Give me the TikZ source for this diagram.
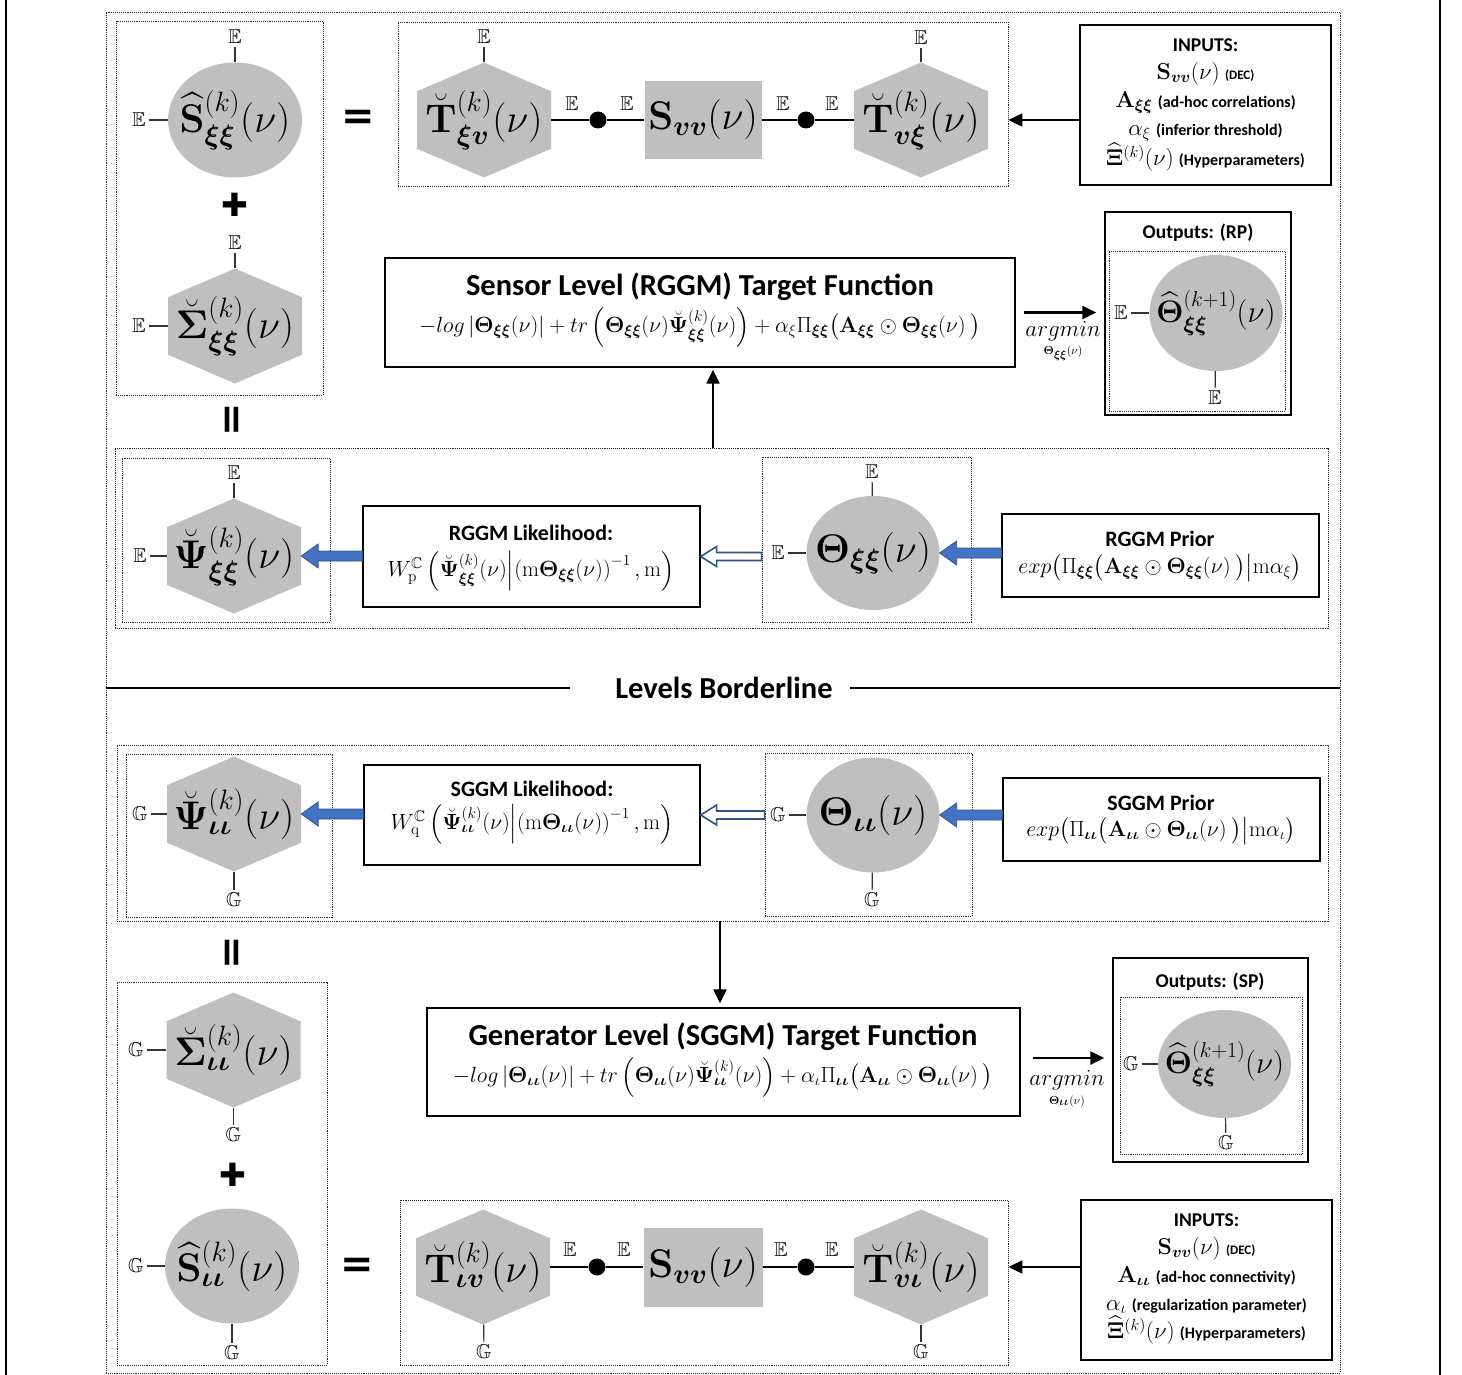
\RequirePackage{fix-cm}
\documentclass[tikz,border=0pt]{standalone}
\usepackage{amsmath,amssymb}
\usepackage{bm}
\usepackage[no-math]{fontspec}
\setmainfont{Carlito}
\newfontfamily\djv{DejaVu Sans}
\usetikzlibrary{shapes.geometric,arrows.meta,calc}
\definecolor{nodegray}{RGB}{191,191,191}
\definecolor{bluefill}{RGB}{68,114,196}
\definecolor{blueedge}{RGB}{47,82,143}
\newcommand{\xixi}{\bm{\xi\xi}}
\newcommand{\ioio}{\bm{\iota\iota}}
\newcommand{\bigttl}{\fontsize{30.5}{36}\selectfont\bfseries}
\newcommand{\midttl}{\fontsize{22}{26}\selectfont\bfseries}
\newcommand{\smttl}{\fontsize{19.5}{24}\selectfont\bfseries}
\newcommand{\partxt}{\fontsize{16}{18}\selectfont\bfseries}
\newcommand{\dectxt}{\fontsize{13}{15}\selectfont\bfseries}
\newcommand{\fatarrow}[2]{%
  \filldraw[fill=bluefill, draw=blueedge, line width=0.8pt] let \p1=(#1), \p2=(#2) in
  (\x1,\y2+5pt) -- (\x2+17pt,\y2+5pt) -- (\x2+17pt,\y2+12pt) -- (\x2,\y2)
  -- (\x2+17pt,\y2-12pt) -- (\x2+17pt,\y2-5pt) -- (\x1,\y2-5pt) -- cycle;}
\newcommand{\hollowarrow}[2]{%
  \filldraw[fill=white, draw=blueedge, line width=1.6pt] let \p1=(#1), \p2=(#2) in
  (\x1,\y2+4pt) -- (\x2+16pt,\y2+4pt) -- (\x2+16pt,\y2+10pt) -- (\x2,\y2)
  -- (\x2+16pt,\y2-10pt) -- (\x2+16pt,\y2-4pt) -- (\x1,\y2-4pt) -- cycle;}
\tikzset{
  dotbox/.style={draw=black!85, densely dotted, line width=0.9pt, inner sep=0pt, rectangle},
  solbox/.style={draw=black, line width=1.3pt, inner sep=0pt, rectangle},
  ell/.style={ellipse, fill=nodegray, minimum width=134pt, minimum height=115pt, inner sep=-40pt,
    font=\fontsize{40}{44}\selectfont},
  hexa/.style={rectangle, inner sep=0pt, minimum width=134pt, minimum height=115pt,
    font=\fontsize{40}{44}\selectfont,
    path picture={\fill[nodegray] (path picture bounding box.north)
      -- ($(path picture bounding box.north east)!0.25!(path picture bounding box.south east)$)
      -- ($(path picture bounding box.north east)!0.75!(path picture bounding box.south east)$)
      -- (path picture bounding box.south)
      -- ($(path picture bounding box.north west)!0.75!(path picture bounding box.south west)$)
      -- ($(path picture bounding box.north west)!0.25!(path picture bounding box.south west)$)
      -- cycle;}},
  sqnode/.style={rectangle, fill=nodegray, inner sep=0pt, minimum width=117pt, minimum height=78pt,
    font=\fontsize{40}{44}\selectfont},
  lbl/.style={inner sep=3pt, font=\fontsize{20}{20}\selectfont},
  stub/.style={draw=black!80, line width=1.2pt},
  link/.style={draw=black, line width=1.2pt},
  blackdot/.style={circle, fill=black, inner sep=0pt, minimum size=17pt},
  arr/.style={line width=2.2pt, -{Triangle[length=14pt,width=13pt]}},
  sym/.style={inner sep=0pt, font=\djv\bfseries\fontsize{40}{40}\selectfont},
  plussym/.style={inner sep=0pt, font=\djv\fontsize{32}{32}\selectfont},
  formula/.style={inner sep=0pt, font=\fontsize{22}{26}\selectfont},
  inlist/.style={inner sep=0pt, align=center, font=\fontsize{23}{28}\selectfont},
  outmath/.style={font=\fontsize{31}{36}\selectfont},
}
\begin{document}
\begin{tikzpicture}[x=1pt,y=-1pt]
\useasboundingbox (0,0) rectangle (1462,1375);
% page frame lines
\draw[line width=1.2pt] (6,0) -- (6,1375);
\draw[line width=1.2pt] (1440,0) -- (1440,1375);
% outer dotted frame
\node[dotbox, minimum width=1234pt, minimum height=1361pt] (outer) at (723,692.5) {};

% ===== top left column =====
\node[dotbox, minimum width=207pt, minimum height=374pt] (lbox1) at (219.5,208) {};
\node[ell] (S1) at (235,120) {$\widehat{\mathbf{S}}^{(k)}_{\xixi}(\nu)$};
\node[lbl] (S1t) at (235,37) {$\mathbb{E}$};
\node[lbl] (S1l) at (139,120) {$\mathbb{E}$};
\draw[stub] (S1t) -- (S1);
\draw[stub] (S1l) -- (S1);
\node[plussym] (plus1) at (235,205) {✚};
\node[hexa] (Sig1) at (235,326) {$\breve{\bm\Sigma}^{(k)}_{\xixi}(\nu)$};
\node[lbl] (Sig1t) at (235,243) {$\mathbb{E}$};
\node[lbl] (Sig1l) at (139,326) {$\mathbb{E}$};
\draw[stub] (Sig1t) -- (Sig1);
\draw[stub] (Sig1l) -- (Sig1);
\node[sym] (eq1) at (358,120) {=};
\node[sym, rotate=90] (par1) at (235,420) {=};

% ===== top T box =====
\node[dotbox, minimum width=610pt, minimum height=164pt] (tbox1) at (703,104) {};
\node[hexa] (T1) at (484,120) {$\breve{\mathbf{T}}^{(k)}_{\bm{\xi v}}(\nu)$};
\node[lbl] (T1t) at (484,37) {$\mathbb{E}$};
\draw[stub] (T1t) -- (T1);
\node[blackdot] (d1) at (598,120) {};
\node[sqnode] (Svv1) at (703,120) {$\mathbf{S}_{\bm{vv}}(\nu)$};
\node[blackdot] (d2) at (806,120) {};
\node[hexa] (T2) at (921,120) {$\breve{\mathbf{T}}^{(k)}_{\bm{v\xi}}(\nu)$};
\node[lbl] (T2t) at (921,38) {$\mathbb{E}$};
\draw[stub] (T2t) -- (T2);
\draw[link] (T1) -- (d1) -- (Svv1) -- (d2) -- (T2);
\node[lbl] (e1a) at (572,104) {$\mathbb{E}$};
\node[lbl] (e1b) at (627,104) {$\mathbb{E}$};
\node[lbl] (e1c) at (783,104) {$\mathbb{E}$};
\node[lbl] (e1d) at (832,104) {$\mathbb{E}$};

% ===== INPUTS (top) =====
\node[solbox, minimum width=251pt, minimum height=160pt] (in1) at (1205.5,105) {};
\node[inlist] (in1txt) at (1205.5,105) {{\smttl INPUTS:}\\
  $\mathbf{S}_{\bm{vv}}(\nu)$ {\dectxt (DEC)}\\
  $\mathbf{A}_{\xixi}$ {\partxt (ad-hoc correlations)}\\
  $\alpha_{\xi}$ {\partxt (inferior threshold)}\\
  $\widehat{\bm\Xi}^{(k)}(\nu)$ {\partxt (Hyperparameters)}};
\draw[arr] (in1.west |- T2) -- (tbox1.east |- T2);

% ===== Sensor level target =====
\node[solbox, minimum width=630pt, minimum height=109pt] (sensor) at (700,312.5) {};
\node[inner sep=0pt, font=\bigttl] (senT) at (700,287) {Sensor Level (RGGM) Target Function};
\node[formula] (senF) at (700,327) {$-log\left|\bm\Theta_{\xixi}(\nu)\right|+tr\left(\bm\Theta_{\xixi}(\nu)\breve{\bm\Psi}^{(k)}_{\xixi}(\nu)\right)+\alpha_{\xi}\Pi_{\xixi}\bigl(\mathbf{A}_{\xixi}\odot\bm\Theta_{\xixi}(\nu)\ \bigr)$};

% ===== Outputs RP =====
\node[solbox, minimum width=186pt, minimum height=203pt] (out1) at (1198,313.5) {};
\node[inner sep=0pt, font=\smttl] (out1T) at (1198,233) {Outputs: (RP)};
\node[dotbox, minimum width=176pt, minimum height=160pt] (out1in) at (1197,331) {};
\node[ell, outmath, minimum width=133pt, minimum height=116pt] (O1) at (1216,313) {$\widehat{\bm\Theta}^{(k+1)}_{\xixi}(\nu)$};
\node[lbl] (O1l) at (1121,313) {$\mathbb{E}$};
\node[lbl] (O1b) at (1215,398) {$\mathbb{E}$};
\draw[stub] (O1l) -- (O1);
\draw[stub] (O1b) -- (O1);
\draw[arr, shorten <=8pt, shorten >=8pt] (sensor.east) -- (out1.west |- sensor.east);
\node[inner sep=0pt, font=\fontsize{23}{26}\selectfont] (am1) at (1063,342) {$\underset{\scriptscriptstyle\bm\Theta_{\xixi}(\nu)}{argmin}$};

% ===== RGGM row =====
\node[dotbox, minimum width=1213pt, minimum height=180pt] (rowA) at (721.5,538) {};
\coordinate (ax) at (713,0);
\draw[arr, shorten >=2pt] (rowA.north -| ax) -- (sensor.south -| ax);
\node[dotbox, minimum width=208pt, minimum height=164pt] (psibox1) at (226,540) {};
\node[hexa] (Psi1) at (234,556) {$\breve{\bm\Psi}^{(k)}_{\xixi}(\nu)$};
\node[lbl] (Psi1t) at (234,473) {$\mathbb{E}$};
\node[lbl] (Psi1l) at (140,556) {$\mathbb{E}$};
\draw[stub] (Psi1t) -- (Psi1);
\draw[stub] (Psi1l) -- (Psi1);
\node[solbox, minimum width=337pt, minimum height=101pt] (lik1) at (531.5,556.5) {};
\node[inner sep=0pt, font=\midttl] (lik1T) at (531,533) {RGGM Likelihood:};
\node[formula] (lik1F) at (531,571) {$W^{\mathbb{C}}_{\mathrm{p}}\left(\breve{\bm\Psi}^{(k)}_{\xixi}(\nu)\middle|\left(\mathrm{m}\bm\Theta_{\xixi}(\nu)\right)^{-1},\mathrm{m}\right)$};
\node[dotbox, minimum width=209pt, minimum height=165pt] (thbox1) at (866.5,539.5) {};
\node[ell, minimum width=133pt, minimum height=114pt] (Th1) at (873,553) {$\bm\Theta_{\xixi}(\nu)$};
\node[lbl] (Th1t) at (872,472) {$\mathbb{E}$};
\node[lbl] (Th1l) at (778,553) {$\mathbb{E}$};
\draw[stub] (Th1t) -- (Th1);
\draw[stub] (Th1l) -- (Th1);
\node[solbox, minimum width=317pt, minimum height=83pt] (prior1) at (1160.5,555.5) {};
\node[inner sep=0pt, font=\midttl] (prior1T) at (1160,539) {RGGM Prior};
\node[formula] (prior1F) at (1160,568) {$exp\bigl(\Pi_{\xixi}\bigl(\mathbf{A}_{\xixi}\odot\bm\Theta_{\xixi}(\nu)\ \bigr)\big|\mathrm{m}\alpha_{\xi}\bigr)$};
\fatarrow{lik1.west}{Psi1.east}
\hollowarrow{thbox1.west}{lik1.east}
\fatarrow{prior1.west}{Th1.east}

% ===== Levels borderline =====
\node[inner sep=0pt, font=\bigttl] (lb) at (724,688) {Levels Borderline};
\coordinate (bl1) at (570,688);
\coordinate (br1) at (850,688);
\draw[line width=1.2pt] (outer.west |- bl1) -- (bl1);
\draw[line width=1.2pt] (br1) -- (outer.east |- br1);

% ===== SGGM row =====
\node[dotbox, minimum width=1211pt, minimum height=176pt] (rowB) at (722.5,833) {};
\node[dotbox, minimum width=206pt, minimum height=163pt] (psibox2) at (229,835.5) {};
\node[hexa] (Psi2) at (234,814) {$\breve{\bm\Psi}^{(k)}_{\ioio}(\nu)$};
\node[lbl] (Psi2l) at (140,814) {$\mathbb{G}$};
\node[lbl] (Psi2b) at (234,900) {$\mathbb{G}$};
\draw[stub] (Psi2l) -- (Psi2);
\draw[stub] (Psi2b) -- (Psi2);
\node[solbox, minimum width=336pt, minimum height=100pt] (lik2) at (532,815) {};
\node[inner sep=0pt, font=\midttl] (lik2T) at (532,789) {SGGM Likelihood:};
\node[formula] (lik2F) at (532,824) {$W^{\mathbb{C}}_{\mathrm{q}}\left(\breve{\bm\Psi}^{(k)}_{\ioio}(\nu)\middle|\left(\mathrm{m}\bm\Theta_{\ioio}(\nu)\right)^{-1},\mathrm{m}\right)$};
\node[dotbox, minimum width=207pt, minimum height=163pt] (thbox2) at (868.5,834.5) {};
\node[ell, minimum width=133pt, minimum height=115pt] (Th2) at (873,815) {$\bm\Theta_{\ioio}(\nu)$};
\node[lbl] (Th2l) at (778,815) {$\mathbb{G}$};
\node[lbl] (Th2b) at (872,900) {$\mathbb{G}$};
\draw[stub] (Th2l) -- (Th2);
\draw[stub] (Th2b) -- (Th2);
\node[solbox, minimum width=317pt, minimum height=83pt] (prior2) at (1161.5,819.5) {};
\node[inner sep=0pt, font=\midttl] (prior2T) at (1161,803) {SGGM Prior};
\node[formula] (prior2F) at (1161,831) {$exp\bigl(\Pi_{\ioio}\bigl(\mathbf{A}_{\ioio}\odot\bm\Theta_{\ioio}(\nu)\ \bigr)\big|\mathrm{m}\alpha_{\iota}\bigr)$};
\fatarrow{lik2.west}{Psi2.east}
\hollowarrow{thbox2.west}{lik2.east}
\fatarrow{prior2.west}{Th2.east}

\node[sym, rotate=90] (par2) at (235,953) {=};

% ===== Generator level target =====
\node[solbox, minimum width=593pt, minimum height=108pt] (gen) at (723.5,1062) {};
\coordinate (dx) at (720,0);
\draw[arr, shorten >=4pt] (rowB.south -| dx) -- (gen.north -| dx);
\node[inner sep=0pt, font=\bigttl] (genT) at (723,1037) {Generator Level (SGGM) Target Function};
\node[formula] (genF) at (723,1077) {$-log\left|\bm\Theta_{\ioio}(\nu)\right|+tr\left(\bm\Theta_{\ioio}(\nu)\breve{\bm\Psi}^{(k)}_{\ioio}(\nu)\right)+\alpha_{\iota}\Pi_{\ioio}\bigl(\mathbf{A}_{\ioio}\odot\bm\Theta_{\ioio}(\nu)\ \bigr)$};

% ===== Outputs SP =====
\node[solbox, minimum width=195pt, minimum height=204pt] (out2) at (1210.5,1060) {};
\node[inner sep=0pt, font=\smttl] (out2T) at (1210,982) {Outputs: (SP)};
\node[dotbox, minimum width=182pt, minimum height=157pt] (out2in) at (1211,1075.5) {};
\node[ell, outmath, minimum width=133pt, minimum height=108pt] (O2) at (1224.5,1064) {$\widehat{\bm\Theta}^{(k+1)}_{\xixi}(\nu)$};
\node[lbl] (O2l) at (1131,1064) {$\mathbb{G}$};
\node[lbl] (O2b) at (1226,1143) {$\mathbb{G}$};
\draw[stub] (O2l) -- (O2);
\draw[stub] (O2b) -- (O2);
\coordinate (gy) at (0,1058);
\draw[arr, shorten <=12pt, shorten >=8pt] (gen.east |- gy) -- (out2.west |- gy);
\node[inner sep=0pt, font=\fontsize{23}{26}\selectfont] (am2) at (1067,1090) {$\underset{\scriptscriptstyle\bm\Theta_{\ioio}(\nu)}{argmin}$};

% ===== bottom left column =====
\node[dotbox, minimum width=210pt, minimum height=383pt] (lbox2) at (222,1173.5) {};
\node[hexa] (Sig2) at (233.5,1050) {$\breve{\bm\Sigma}^{(k)}_{\ioio}(\nu)$};
\node[lbl] (Sig2l) at (136,1050) {$\mathbb{G}$};
\node[lbl] (Sig2b) at (233.5,1135) {$\mathbb{G}$};
\draw[stub] (Sig2l) -- (Sig2);
\draw[stub] (Sig2b) -- (Sig2);
\node[plussym] (plus2) at (233,1175) {✚};
\node[ell] (S2) at (232,1266) {$\widehat{\mathbf{S}}^{(k)}_{\ioio}(\nu)$};
\node[lbl] (S2l) at (136,1266) {$\mathbb{G}$};
\node[lbl] (S2b) at (232,1353) {$\mathbb{G}$};
\draw[stub] (S2l) -- (S2);
\draw[stub] (S2b) -- (S2);
\node[sym] (eq2) at (357,1268) {=};

% ===== bottom T box =====
\node[dotbox, minimum width=608pt, minimum height=165pt] (tbox2) at (704,1282.5) {};
\node[hexa] (T3) at (483,1267) {$\breve{\mathbf{T}}^{(k)}_{\bm{\iota v}}(\nu)$};
\node[lbl] (T3b) at (484,1352) {$\mathbb{G}$};
\draw[stub] (T3b) -- (T3);
\node[blackdot] (d3) at (597,1267) {};
\node[sqnode, minimum width=119pt, minimum height=79pt] (Svv2) at (703,1267) {$\mathbf{S}_{\bm{vv}}(\nu)$};
\node[blackdot] (d4) at (806,1267) {};
\node[hexa] (T4) at (921,1267) {$\breve{\mathbf{T}}^{(k)}_{\bm{v\iota}}(\nu)$};
\node[lbl] (T4b) at (921,1352) {$\mathbb{G}$};
\draw[stub] (T4b) -- (T4);
\draw[link] (T3) -- (d3) -- (Svv2) -- (d4) -- (T4);
\node[lbl] (e2a) at (570,1250) {$\mathbb{E}$};
\node[lbl] (e2b) at (624,1250) {$\mathbb{E}$};
\node[lbl] (e2c) at (781,1250) {$\mathbb{E}$};
\node[lbl] (e2d) at (832,1250) {$\mathbb{E}$};

% ===== INPUTS (bottom) =====
\node[solbox, minimum width=251pt, minimum height=160pt] (in2) at (1206.5,1280) {};
\node[inlist] (in2txt) at (1206.5,1279) {{\smttl INPUTS:}\\
  $\mathbf{S}_{\bm{vv}}(\nu)$ {\dectxt (DEC)}\\
  $\mathbf{A}_{\ioio}$ {\partxt (ad-hoc connectivity)}\\
  $\alpha_{\iota}$ {\partxt (regularization parameter)}\\
  $\widehat{\bm\Xi}^{(k)}(\nu)$ {\partxt (Hyperparameters)}};
\draw[arr] (in2.west |- T4) -- (tbox2.east |- T4);
\end{tikzpicture}
\end{document}
